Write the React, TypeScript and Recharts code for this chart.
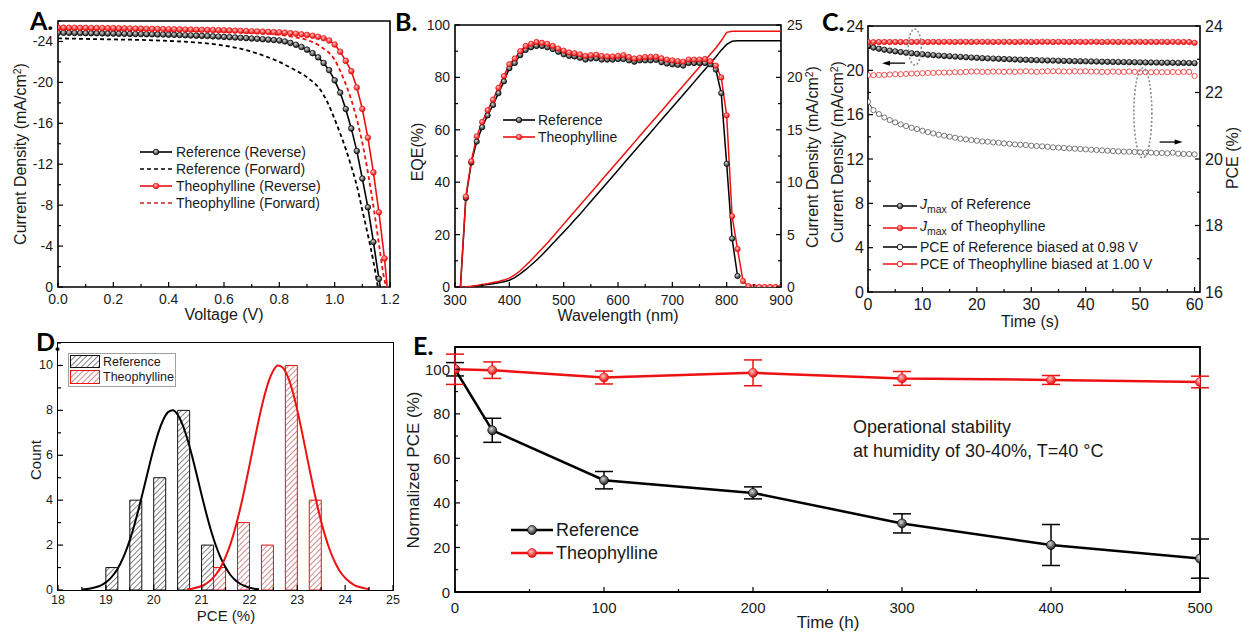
import React from 'react'
import {
  LineChart,
  Line,
  XAxis,
  YAxis,
  ComposedChart,
  Bar,
  ErrorBar,
  ReferenceArea,
  ReferenceDot,
} from 'recharts'

const FONT = '"Liberation Sans", Arial, Helvetica, sans-serif'
const RED = '#ee1111'
const INK = '#1a1a1a'

// ---------- A: J-V curves ----------
const voltsRefRev = [
  0, 0.02, 0.04, 0.06, 0.08, 0.1, 0.12, 0.14, 0.16, 0.18, 0.2, 0.22, 0.24, 0.26, 0.28, 0.3, 0.32, 0.34, 0.36, 0.38,
  0.4, 0.42, 0.44, 0.46, 0.48, 0.5, 0.52, 0.54, 0.56, 0.58, 0.6, 0.62, 0.64, 0.66, 0.68, 0.7, 0.72, 0.74, 0.76, 0.78,
  0.8, 0.82, 0.84, 0.86, 0.88, 0.9, 0.92, 0.94, 0.96, 0.98, 1.0, 1.02, 1.04, 1.06, 1.08, 1.1, 1.12, 1.14, 1.16, 1.165,
]
const jRefRev = [
  -24.85, -24.84, -24.84, -24.83, -24.82, -24.81, -24.8, -24.8, -24.79, -24.78, -24.77, -24.76, -24.75, -24.74, -24.73,
  -24.72, -24.71, -24.7, -24.69, -24.68, -24.66, -24.65, -24.63, -24.61, -24.59, -24.57, -24.55, -24.53, -24.5, -24.48,
  -24.45, -24.42, -24.39, -24.36, -24.33, -24.29, -24.26, -24.22, -24.18, -24.14, -24.1, -24.0, -23.86, -23.68, -23.46,
  -23.2, -22.86, -22.45, -21.9, -21.2, -20.2, -19.0, -17.4, -15.5, -13.3, -10.6, -7.8, -4.4, -0.8, 0,
]
const voltsTheoRev = [
  0, 0.02, 0.04, 0.06, 0.08, 0.1, 0.12, 0.14, 0.16, 0.18, 0.2, 0.22, 0.24, 0.26, 0.28, 0.3, 0.32, 0.34, 0.36, 0.38,
  0.4, 0.42, 0.44, 0.46, 0.48, 0.5, 0.52, 0.54, 0.56, 0.58, 0.6, 0.62, 0.64, 0.66, 0.68, 0.7, 0.72, 0.74, 0.76, 0.78,
  0.8, 0.82, 0.84, 0.86, 0.88, 0.9, 0.92, 0.94, 0.96, 0.98, 1.0, 1.02, 1.04, 1.06, 1.08, 1.1, 1.12, 1.14, 1.16, 1.18,
  1.19,
]
const jTheoRev = [
  -25.35, -25.35, -25.34, -25.34, -25.33, -25.33, -25.32, -25.32, -25.31, -25.3, -25.3, -25.29, -25.28, -25.27, -25.26,
  -25.25, -25.24, -25.23, -25.22, -25.21, -25.2, -25.19, -25.18, -25.17, -25.16, -25.15, -25.14, -25.13, -25.12, -25.11,
  -25.1, -25.08, -25.06, -25.04, -25.02, -25.0, -24.98, -24.96, -24.94, -24.92, -24.9, -24.86, -24.81, -24.76, -24.7,
  -24.64, -24.56, -24.46, -24.32, -24.1, -23.7, -23.0, -22.1, -21.1, -19.5, -17.4, -14.6, -11.2, -7.3, -2.8, 0,
]
const voltsRefFwd = [
  0, 0.1, 0.2, 0.3, 0.4, 0.5, 0.6, 0.65, 0.7, 0.75, 0.8, 0.85, 0.9, 0.95, 0.975, 1.0, 1.02, 1.04, 1.06, 1.08, 1.1, 1.12,
  1.14, 1.156,
]
const jRefFwd = [
  -24.3, -24.25, -24.2, -24.15, -24.05, -23.9, -23.6, -23.35, -23.0, -22.55, -22.0, -21.3, -20.5, -19.2, -18.0, -16.4,
  -15.0, -13.5, -11.8, -9.9, -7.5, -5.1, -2.5, 0,
]
const voltsTheoFwd = [0, 0.2, 0.4, 0.6, 0.7, 0.8, 0.85, 0.9, 0.95, 1.0, 1.03, 1.06, 1.08, 1.1, 1.12, 1.14, 1.16, 1.175, 1.186]
const jTheoFwd = [
  -25.2, -25.15, -25.05, -24.95, -24.85, -24.65, -24.45, -24.15, -23.5, -22.2, -20.5, -18.3, -16.4, -14.1, -11.2, -7.9,
  -4.2, -1.4, 0,
]

// ---------- B: EQE + integrated current ----------
const wavelengths = [
  300, 310, 320, 330, 340, 350, 360, 370, 380, 390, 400, 410, 420, 430, 440, 450, 460, 470, 480, 490, 500, 510, 520, 530,
  540, 550, 560, 570, 580, 590, 600, 610, 620, 630, 640, 650, 660, 670, 680, 690, 700, 710, 720, 730, 740, 750, 760, 770,
  780, 790, 800, 810, 820, 830, 840, 850, 860, 870, 880, 890, 900,
]
const eqeRef = [
  0, 0, 34, 47.5, 55.5, 61, 65.5, 69.5, 74, 78.5, 83.5, 85.5, 88.5, 90.5, 91.5, 92, 92, 91.5, 90.8, 89.8, 88.8, 88.2, 88,
  87.5, 86.8, 87.2, 87.3, 86.8, 86.8, 86.8, 87, 87, 86.5, 86, 86.5, 86.5, 86.5, 86.7, 85.8, 85.3, 85, 84.8, 84.5, 85.5,
  85.5, 85.5, 85.5, 85, 83, 74, 47, 18.5, 4.2, null, null, null, null, null, null, null, null,
]
const eqeTheo = [
  0, 0, 34.5, 48, 57.5, 63, 67.5, 71.5, 76, 80.5, 85, 87.2, 90, 92, 92.8, 93.5, 93.2, 92.8, 92, 91, 90.2, 89.5, 89.2, 88.8,
  88.2, 88.5, 88.7, 88.2, 88, 88, 88.2, 88.5, 87.8, 87.2, 87.5, 87.8, 87.8, 87.9, 87.3, 86.8, 86.5, 86.2, 86, 86.8, 86.8,
  86.8, 87, 86.2, 84.5, 80, 65.5, 27, 14.5, 2.3, 0.3, 0, 0, 0, 0, 0, 0,
]
const jscRef = [
  0, 0, 0.02, 0.05, 0.1, 0.16, 0.23, 0.31, 0.4, 0.5, 0.65, 0.9, 1.25, 1.65, 2.1, 2.55, 3.05, 3.6, 4.15, 4.7, 5.25, 5.8,
  6.4, 6.95, 7.55, 8.15, 8.75, 9.35, 9.95, 10.55, 11.15, 11.75, 12.35, 12.95, 13.55, 14.15, 14.75, 15.35, 15.95, 16.55,
  17.15, 17.75, 18.35, 18.95, 19.55, 20.15, 20.75, 21.35, 21.95, 22.6, 23.15, 23.45, 23.5, 23.5, 23.5, 23.5, 23.5, 23.5,
  23.5, 23.5, 23.5,
]
const jscTheo = [
  0, 0, 0.03, 0.08, 0.15, 0.23, 0.32, 0.42, 0.53, 0.66, 0.85, 1.15, 1.55, 2.05, 2.55, 3.1, 3.65, 4.2, 4.8, 5.4, 6.0, 6.6,
  7.2, 7.8, 8.4, 9.0, 9.6, 10.2, 10.8, 11.4, 12.0, 12.6, 13.2, 13.8, 14.4, 15.0, 15.6, 16.2, 16.8, 17.4, 18.0, 18.6, 19.2,
  19.8, 20.4, 21.0, 21.6, 22.2, 22.8, 23.5, 24.3, 24.4, 24.4, 24.4, 24.4, 24.4, 24.4, 24.4, 24.4, 24.4, 24.4,
]

// ---------- C: steady-state tracking ----------
const seconds = [
  0, 1, 2, 3, 4, 5, 6, 7, 8, 9, 10, 11, 12, 13, 14, 15, 16, 17, 18, 19, 20, 21, 22, 23, 24, 25, 26, 27, 28, 29, 30, 31,
  32, 33, 34, 35, 36, 37, 38, 39, 40, 41, 42, 43, 44, 45, 46, 47, 48, 49, 50, 51, 52, 53, 54, 55, 56, 57, 58, 59, 60,
]
const jmaxRef = [
  22.2, 22.05, 21.95, 21.86, 21.78, 21.71, 21.65, 21.59, 21.54, 21.49, 21.45, 21.41, 21.37, 21.33, 21.3, 21.27, 21.24,
  21.21, 21.18, 21.15, 21.13, 21.1, 21.08, 21.06, 21.04, 21.02, 21.0, 20.98, 20.96, 20.95, 20.93, 20.92, 20.9, 20.89,
  20.88, 20.86, 20.85, 20.84, 20.83, 20.82, 20.81, 20.8, 20.79, 20.78, 20.77, 20.76, 20.75, 20.74, 20.74, 20.73, 20.72,
  20.71, 20.71, 20.7, 20.69, 20.69, 20.68, 20.67, 20.67, 20.66, 20.65,
]
const jmaxTheo = [
  22.55, 22.54, 22.55, 22.56, 22.55, 22.56, 22.56, 22.55, 22.56, 22.57, 22.56, 22.56, 22.57, 22.56, 22.57, 22.57, 22.56,
  22.57, 22.57, 22.56, 22.57, 22.57, 22.57, 22.56, 22.57, 22.57, 22.57, 22.56, 22.57, 22.57, 22.56, 22.57, 22.57, 22.57,
  22.56, 22.57, 22.57, 22.56, 22.57, 22.57, 22.56, 22.57, 22.57, 22.56, 22.57, 22.57, 22.56, 22.57, 22.56, 22.57, 22.57,
  22.56, 22.57, 22.56, 22.57, 22.56, 22.57, 22.56, 22.56, 22.55, 22.48,
]
const pceRef = [
  21.72, 21.47, 21.35, 21.25, 21.17, 21.1, 21.04, 20.99, 20.94, 20.9, 20.85, 20.81, 20.77, 20.73, 20.7, 20.67, 20.64,
  20.61, 20.59, 20.57, 20.55, 20.53, 20.52, 20.5, 20.49, 20.47, 20.46, 20.44, 20.43, 20.42, 20.4, 20.39, 20.38, 20.37,
  20.35, 20.34, 20.33, 20.32, 20.31, 20.3, 20.29, 20.28, 20.27, 20.26, 20.25, 20.24, 20.23, 20.22, 20.22, 20.21, 20.2,
  20.19, 20.19, 20.18, 20.18, 20.17, 20.19, 20.16, 20.15, 20.15, 20.14,
]
const pceTheo = [
  22.52, 22.52, 22.53, 22.53, 22.54, 22.55, 22.55, 22.56, 22.57, 22.57, 22.58, 22.59, 22.59, 22.6, 22.6, 22.6, 22.61,
  22.61, 22.62, 22.63, 22.63, 22.62, 22.62, 22.63, 22.63, 22.62, 22.63, 22.62, 22.63, 22.64, 22.63, 22.62, 22.63, 22.64,
  22.64, 22.64, 22.63, 22.63, 22.64, 22.63, 22.64, 22.63, 22.63, 22.62, 22.62, 22.63, 22.62, 22.62, 22.63, 22.62, 22.61,
  22.61, 22.61, 22.62, 22.61, 22.61, 22.62, 22.61, 22.62, 22.62, 22.5,
]

// ---------- D: PCE histogram ----------
const binStarts = ['18.0', '18.5', '19.0', '19.5', '20.0', '20.5', '21.0', '21.5', '22.0', '22.5', '23.0', '23.5', '24.0', '24.5']
const countRef = [null, null, 1, 4, 5, 8, 2, null, null, null, null, null, null, null]
const countTheo = [null, null, null, null, null, null, 1, 3, 2, 10, 4, null, null, null]
const fitRefX = [
  18.5, 18.6, 18.7, 18.8, 18.9, 19.0, 19.1, 19.2, 19.3, 19.4, 19.5, 19.6, 19.7, 19.8, 19.9, 20.0, 20.1, 20.2, 20.3, 20.4,
  20.5, 20.6, 20.7, 20.8, 20.9, 21.0, 21.1, 21.2, 21.3, 21.4, 21.5, 21.6, 21.7, 21.8, 21.9, 22.0, 22.1, 22.2,
]
const fitRefY = [
  0.02, 0.04, 0.08, 0.13, 0.21, 0.34, 0.53, 0.8, 1.16, 1.63, 2.22, 2.93, 3.73, 4.59, 5.47, 6.3, 7.03, 7.58, 7.92, 8.0,
  7.81, 7.38, 6.75, 5.98, 5.12, 4.24, 3.4, 2.63, 1.97, 1.43, 1.01, 0.68, 0.45, 0.29, 0.18, 0.1, 0.06, 0.03,
]
const fitTheoX = [
  20.7, 20.8, 20.9, 21.0, 21.1, 21.2, 21.3, 21.4, 21.5, 21.6, 21.7, 21.8, 21.9, 22.0, 22.1, 22.2, 22.3, 22.4, 22.5, 22.6,
  22.7, 22.8, 22.9, 23.0, 23.1, 23.2, 23.3, 23.4, 23.5, 23.6, 23.7, 23.8, 23.9, 24.0, 24.1, 24.2, 24.3, 24.4, 24.5,
]
const fitTheoY = [
  0.03, 0.06, 0.11, 0.18, 0.29, 0.45, 0.69, 1.01, 1.46, 2.02, 2.73, 3.56, 4.51, 5.54, 6.6, 7.63, 8.54, 9.28, 9.78, 10.0,
  9.9, 9.51, 8.87, 8.01, 7.02, 5.96, 4.92, 3.93, 3.04, 2.29, 1.67, 1.18, 0.8, 0.54, 0.35, 0.21, 0.13, 0.08, 0.04,
]

// ---------- E: operational stability ----------
const hours = [0, 25, 100, 200, 300, 400, 500]
const normRef = [100, 72.6, 50.2, 44.5, 30.8, 21.1, 15.0]
const normRefErr = [3, 5.4, 3.9, 2.7, 4.3, 9.2, 8.8]
const normTheo = [100, 99.6, 96.3, 98.4, 95.9, 95.2, 94.3]
const normTheoErr = [6.8, 3.7, 2.9, 5.8, 3.1, 2, 2.6]

// note: no data field may be called "ref" (Bar spreads entries into props)
const jvRefRev = voltsRefRev.map((v, i) => ({ v, j: jRefRev[i] }))
const jvTheoRev = voltsTheoRev.map((v, i) => ({ v, j: jTheoRev[i] }))
const jvRefFwd = voltsRefFwd.map((v, i) => ({ v, j: jRefFwd[i] }))
const jvTheoFwd = voltsTheoFwd.map((v, i) => ({ v, j: jTheoFwd[i] }))
const eqeData = wavelengths.map((wl, i) => ({ wl, eqeRef: eqeRef[i], eqeTheo: eqeTheo[i], jscRef: jscRef[i], jscTheo: jscTheo[i] }))
const trackData = seconds.map((t, i) => ({ t, jRef: jmaxRef[i], jTheo: jmaxTheo[i], pRef: pceRef[i], pTheo: pceTheo[i] }))
const histData = binStarts.map((bin, i) => ({ bin, nRef: countRef[i], nTheo: countTheo[i] }))
const fitRef = fitRefX.map((x, i) => ({ x, y: fitRefY[i] }))
const fitTheo = fitTheoX.map((x, i) => ({ x, y: fitTheoY[i] }))
const stabData = hours.map((t, i) => ({ t, pceRef: normRef[i], errRef: normRefErr[i], pceTheo: normTheo[i], errTheo: normTheoErr[i] }))

class Guard extends React.Component<any, { err: string | null }> {
  state = { err: null as string | null }
  static getDerivedStateFromError(e: any) {
    return { err: String(e && e.message) }
  }
  render() {
    if (this.state.err) return <div style={{ color: 'blue', fontSize: 11, width: 380 }}>{this.props.name}: {this.state.err}</div>
    return this.props.children
  }
}

// inward ticks with minor marks, labels only on majors
function makeTick(side: 'bottom' | 'left' | 'right', majors: number[], fs: number, gap: number, fmt: (v: number) => string = String) {
  return (props: any) => {
    const { x, y, payload } = props
    const v = Number(payload.value)
    const major = majors.some((m) => Math.abs(m - v) < 1e-6)
    const len = major ? 5 : 3
    if (side === 'bottom') {
      return (
        <g>
          <line x1={x} y1={y} x2={x} y2={y - len} stroke="#000" strokeWidth={1.2} />
          {major && (
            <text x={x} y={y + gap} textAnchor="middle" dominantBaseline="central" fontSize={fs} fill={INK}>
              {fmt(v)}
            </text>
          )}
        </g>
      )
    }
    const dir = side === 'left' ? 1 : -1
    return (
      <g>
        <line x1={x} y1={y} x2={x + dir * len} y2={y} stroke="#000" strokeWidth={1.2} />
        {major && (
          <text x={x - dir * gap} y={y} textAnchor={side === 'left' ? 'end' : 'start'} dominantBaseline="central" fontSize={fs} fill={INK}>
            {fmt(v)}
          </text>
        )}
      </g>
    )
  }
}

const ball = (fill: string, stroke: string, r: number, keep?: (p: any) => boolean) => (p: any) => {
  if (p.value == null || p.cy == null || (keep && !keep(p))) return <g key={`n-${p.index}`} />
  return <circle key={`d-${p.index}`} cx={p.cx} cy={p.cy} r={r} fill={fill} stroke={stroke} strokeWidth={0.7} />
}

const ellipseShape = (rx: number, ry: number) => (p: any) => (
  <ellipse cx={p.cx} cy={p.cy} rx={rx} ry={ry} fill="none" stroke="#8a8a8a" strokeWidth={1.6} strokeDasharray="2 2" />
)
const arrowShape = (dir: 1 | -1, len: number) => (p: any) => {
  const tip = p.cx + (dir * len) / 2
  const tail = p.cx - (dir * len) / 2
  return (
    <g>
      <line x1={tail} y1={p.cy} x2={tip - dir * 5} y2={p.cy} stroke="#000" strokeWidth={1.3} />
      <polygon points={`${tip},${p.cy} ${tip - dir * 8},${p.cy - 2.5} ${tip - dir * 8},${p.cy + 2.5}`} fill="#000" />
    </g>
  )
}

const noAxis = { tickLine: false, axisLine: false, tickSize: 0, tickMargin: 0, interval: 0 as const, allowDataOverflow: true }

function Title({ x, y, fs, vertical, children }: any) {
  return (
    <div
      style={{
        position: 'absolute',
        left: x,
        top: y,
        transform: `translate(-50%, -50%)${vertical ? ' rotate(-90deg)' : ''}`,
        fontSize: fs,
        lineHeight: 1,
        whiteSpace: 'nowrap',
        color: INK,
      }}
    >
      {children}
    </div>
  )
}

function Letter({ x, y, children }: any) {
  return (
    <div style={{ position: 'absolute', left: x, top: y + 3, fontFamily: 'Lato, "Open Sans", sans-serif', fontWeight: 700, fontSize: 25, lineHeight: '20px', color: '#000' }}>
      {children}
    </div>
  )
}

function LegendRow({ x, y, w, textX, color, dash, marker, fs, lw = 1.6, r = 2.8, children }: any) {
  return (
    <>
      <svg style={{ position: 'absolute', left: x, top: y - 8, overflow: 'visible' }} width={w} height={16}>
        <line x1={0} y1={8} x2={w} y2={8} stroke={color} strokeWidth={lw} strokeDasharray={dash} />
        {marker === 'ball' && <circle cx={w / 2} cy={8} r={r} fill={color === RED ? 'url(#ballR)' : 'url(#ballK)'} stroke={color} strokeWidth={0.7} />}
        {marker === 'open' && <circle cx={w / 2} cy={8} r={r} fill="#fff" stroke={color} strokeWidth={0.9} />}
      </svg>
      <div style={{ position: 'absolute', left: textX, top: y, transform: 'translateY(-50%)', fontSize: fs, lineHeight: 1, whiteSpace: 'nowrap', color: INK }}>
        {children}
      </div>
    </>
  )
}

const cm2 = (
  <>
    mA/cm<sup style={{ fontSize: '0.65em', verticalAlign: '0.55em' }}>2</sup>
  </>
)

function PanelA() {
  return (
    <LineChart width={400} height={320} margin={{ top: 21, right: 10, bottom: 3, left: 0 }}>
      <XAxis
        dataKey="v"
        type="number"
        domain={[0, 1.2]}
        ticks={[0, 0.1, 0.2, 0.3, 0.4, 0.5, 0.6, 0.7, 0.8, 0.9, 1.0, 1.1, 1.2]}
        height={30}
        tick={makeTick('bottom', [0, 0.2, 0.4, 0.6, 0.8, 1.0, 1.2], 14, 12, (v) => v.toFixed(1))}
        {...noAxis}
      />
      <YAxis
        type="number"
        domain={[-26, 0]}
        reversed
        ticks={[-26, -24, -22, -20, -18, -16, -14, -12, -10, -8, -6, -4, -2, 0]}
        width={58}
        tick={makeTick('left', [-24, -20, -16, -12, -8, -4, 0], 14, 5)}
        {...noAxis}
      />
      <ReferenceArea x1={0} x2={1.2} y1={-26} y2={0} fill="none" stroke="#000" strokeWidth={1.6} />
      <Line data={jvRefFwd} dataKey="j" type="monotone" stroke="#000" strokeWidth={1.8} strokeDasharray="4 3" dot={false} isAnimationActive={false} />
      <Line data={jvTheoFwd} dataKey="j" type="monotone" stroke={RED} strokeWidth={1.8} strokeDasharray="4 3" dot={false} isAnimationActive={false} />
      <Line data={jvRefRev} dataKey="j" stroke="#000" strokeWidth={1.6} dot={ball('url(#ballK)', '#000', 2.8, (p) => p.index < jvRefRev.length - 1)} isAnimationActive={false} />
      <Line data={jvTheoRev} dataKey="j" stroke={RED} strokeWidth={1.6} dot={ball('url(#ballR)', RED, 2.8, (p) => p.index < jvTheoRev.length - 1)} isAnimationActive={false} />
    </LineChart>
  )
}

function PanelB() {
  return (
    <ComposedChart width={430} height={320} data={eqeData} margin={{ top: 25, right: 9, bottom: 3, left: 0 }}>
      <XAxis
        dataKey="wl"
        type="number"
        domain={[300, 900]}
        ticks={[300, 350, 400, 450, 500, 550, 600, 650, 700, 750, 800, 850, 900]}
        height={30}
        tick={makeTick('bottom', [300, 400, 500, 600, 700, 800, 900], 14, 13)}
        {...noAxis}
      />
      <YAxis
        yAxisId="eqe"
        type="number"
        domain={[0, 100]}
        ticks={[0, 10, 20, 30, 40, 50, 60, 70, 80, 90, 100]}
        width={55}
        tick={makeTick('left', [0, 20, 40, 60, 80, 100], 14, 5)}
        {...noAxis}
      />
      <YAxis
        yAxisId="jsc"
        orientation="right"
        type="number"
        domain={[0, 25]}
        ticks={[0, 2.5, 5, 7.5, 10, 12.5, 15, 17.5, 20, 22.5, 25]}
        width={40}
        tick={makeTick('right', [0, 5, 10, 15, 20, 25], 14, 6)}
        {...noAxis}
      />
      <ReferenceArea yAxisId="eqe" x1={300} x2={900} y1={0} y2={100} fill="none" stroke="#000" strokeWidth={1.6} />
      <Line yAxisId="jsc" dataKey="jscRef" stroke="#000" strokeWidth={1.5} dot={false} isAnimationActive={false} />
      <Line yAxisId="jsc" dataKey="jscTheo" stroke={RED} strokeWidth={1.5} dot={false} isAnimationActive={false} />
      <Line yAxisId="eqe" dataKey="eqeRef" stroke="#000" strokeWidth={1.5} dot={ball('url(#ballK)', '#000', 2.7, (p) => p.payload.wl >= 320)} isAnimationActive={false} />
      <Line yAxisId="eqe" dataKey="eqeTheo" stroke={RED} strokeWidth={1.5} dot={ball('url(#ballR)', RED, 2.7, (p) => p.payload.wl >= 320)} isAnimationActive={false} />
    </ComposedChart>
  )
}

function PanelC() {
  return (
    <ComposedChart width={422} height={320} data={trackData} margin={{ top: 26, right: 12, bottom: 3, left: 0 }}>
      <XAxis
        dataKey="t"
        type="number"
        domain={[0, 61]}
        ticks={[0, 5, 10, 15, 20, 25, 30, 35, 40, 45, 50, 55, 60]}
        height={25}
        tick={makeTick('bottom', [0, 10, 20, 30, 40, 50, 60], 16, 12)}
        {...noAxis}
      />
      <YAxis
        yAxisId="j"
        type="number"
        domain={[0, 24]}
        ticks={[0, 2, 4, 6, 8, 10, 12, 14, 16, 18, 20, 22, 24]}
        width={48}
        tick={makeTick('left', [0, 4, 8, 12, 16, 20, 24], 16, 4)}
        {...noAxis}
      />
      <YAxis
        yAxisId="pce"
        orientation="right"
        type="number"
        domain={[16, 24]}
        ticks={[16, 17, 18, 19, 20, 21, 22, 23, 24]}
        width={30}
        tick={makeTick('right', [16, 18, 20, 22, 24], 16, 5)}
        {...noAxis}
      />
      <ReferenceArea yAxisId="j" x1={0} x2={61} y1={0} y2={24} fill="none" stroke="#000" strokeWidth={1.6} />
      <Line yAxisId="pce" dataKey="pRef" stroke="#000" strokeWidth={0.8} dot={ball('#fff', '#444', 2.6)} isAnimationActive={false} />
      <Line yAxisId="pce" dataKey="pTheo" stroke={RED} strokeWidth={0.8} dot={ball('#fff', RED, 2.6)} isAnimationActive={false} />
      <Line yAxisId="j" dataKey="jRef" stroke="#000" strokeWidth={1.2} dot={ball('url(#ballK)', '#000', 2.7)} isAnimationActive={false} />
      <Line yAxisId="j" dataKey="jTheo" stroke={RED} strokeWidth={1.2} dot={ball('url(#ballR)', RED, 2.7)} isAnimationActive={false} />
      <ReferenceDot yAxisId="j" x={8.6} y={22.1} r={1} shape={ellipseShape(6.5, 18)} />
      <ReferenceDot yAxisId="j" x={50.5} y={16.15} r={1} shape={ellipseShape(9, 45)} />
      <ReferenceDot yAxisId="j" x={4.7} y={20.65} r={1} shape={arrowShape(-1, 23)} />
      <ReferenceDot yAxisId="j" x={55.7} y={13.53} r={1} shape={arrowShape(1, 23)} />
    </ComposedChart>
  )
}

function PanelD() {
  return (
    <ComposedChart width={410} height={314} data={histData} barGap={0} barCategoryGap={0} margin={{ top: 23, right: 17, bottom: 14, left: 0 }}>
      <XAxis xAxisId="cat" dataKey="bin" type="category" hide height={0} />
      <XAxis
        xAxisId="num"
        dataKey="x"
        type="number"
        domain={[18, 25]}
        ticks={[18, 18.5, 19, 19.5, 20, 20.5, 21, 21.5, 22, 22.5, 23, 23.5, 24, 24.5, 25]}
        height={30}
        tick={makeTick('bottom', [18, 19, 20, 21, 22, 23, 24, 25], 12.5, 10)}
        {...noAxis}
      />
      <YAxis
        type="number"
        domain={[0, 11]}
        ticks={[0, 1, 2, 3, 4, 5, 6, 7, 8, 9, 10, 11]}
        width={58}
        tick={makeTick('left', [0, 2, 4, 6, 8, 10], 12.5, 5)}
        {...noAxis}
      />
      <Bar xAxisId="cat" dataKey="nRef" fill="url(#hatchK)" stroke="#111" strokeWidth={1} isAnimationActive={false} />
      <Bar xAxisId="cat" dataKey="nTheo" fill="url(#hatchR)" stroke={RED} strokeWidth={1} isAnimationActive={false} />
      <Line xAxisId="num" data={fitRef} dataKey="y" type="monotone" stroke="#000" strokeWidth={2} dot={false} isAnimationActive={false} />
      <Line xAxisId="num" data={fitTheo} dataKey="y" type="monotone" stroke={RED} strokeWidth={2} dot={false} isAnimationActive={false} />
    </ComposedChart>
  )
}

function PanelE() {
  return (
    <ComposedChart width={842} height={314} data={stabData} margin={{ top: 27, right: 42, bottom: 12, left: 0 }}>
      <XAxis
        dataKey="t"
        type="number"
        domain={[0, 500]}
        ticks={[0, 50, 100, 150, 200, 250, 300, 350, 400, 450, 500]}
        height={30}
        tick={makeTick('bottom', [0, 100, 200, 300, 400, 500], 15, 15)}
        {...noAxis}
      />
      <YAxis
        type="number"
        domain={[0, 110]}
        ticks={[0, 10, 20, 30, 40, 50, 60, 70, 80, 90, 100, 110]}
        width={55}
        tick={makeTick('left', [0, 20, 40, 60, 80, 100], 15, 5)}
        {...noAxis}
      />
      <ReferenceArea x1={0} x2={500} y1={0} y2={110} fill="none" stroke="#000" strokeWidth={1.8} />
      <Line dataKey="pceRef" stroke="#000" strokeWidth={2.5} dot={ball('url(#ballK)', '#000', 4.5)} isAnimationActive={false}>
        <ErrorBar dataKey="errRef" direction="y" width={9} stroke="#000" strokeWidth={1.5} />
      </Line>
      <Line dataKey="pceTheo" stroke={RED} strokeWidth={2.5} dot={ball('url(#ballR)', RED, 4.5)} isAnimationActive={false}>
        <ErrorBar dataKey="errTheo" direction="y" width={9} stroke={RED} strokeWidth={1.5} />
      </Line>
    </ComposedChart>
  )
}

export default function App() {
  return (
    <div style={{ position: 'fixed', left: 0, top: 0, width: 1242, height: 634, background: '#fff', overflow: 'hidden', fontFamily: FONT }}>
      <svg width={0} height={0} style={{ position: 'absolute' }}>
        <defs>
          <radialGradient id="ballK" cx="0.4" cy="0.35" r="0.65">
            <stop offset="0" stopColor="#d8d8d8" />
            <stop offset="1" stopColor="#1a1a1a" />
          </radialGradient>
          <radialGradient id="ballR" cx="0.4" cy="0.35" r="0.65">
            <stop offset="0" stopColor="#ffc4c4" />
            <stop offset="1" stopColor="#e60000" />
          </radialGradient>
          <pattern id="hatchK" width="4" height="4" patternUnits="userSpaceOnUse" patternTransform="rotate(45)">
            <rect width="4" height="4" fill="#fff" />
            <line x1="0" y1="0" x2="0" y2="4" stroke="#333" strokeWidth="1.2" />
          </pattern>
          <pattern id="hatchR" width="4" height="4" patternUnits="userSpaceOnUse" patternTransform="rotate(45)">
            <rect width="4" height="4" fill="#fff" />
            <line x1="0" y1="0" x2="0" y2="4" stroke="#b03a3a" strokeWidth="1.2" />
          </pattern>
        </defs>
      </svg>

      <div style={{ position: 'absolute', left: 0, top: 0 }}>
        <Guard name="A"><PanelA /></Guard>
      </div>
      <div style={{ position: 'absolute', left: 400, top: 0 }}>
        <Guard name="B"><PanelB /></Guard>
      </div>
      <div style={{ position: 'absolute', left: 820, top: 0 }}>
        <Guard name="C"><PanelC /></Guard>
      </div>
      <div style={{ position: 'absolute', left: 0, top: 320 }}>
        <Guard name="D"><PanelD /></Guard>
      </div>
      {/* frame of D */}
      <div style={{ position: 'absolute', left: 57, top: 342, width: 337, height: 249, border: '1.6px solid #000', boxSizing: 'border-box', pointerEvents: 'none' }} />
      <div style={{ position: 'absolute', left: 400, top: 320 }}>
        <Guard name="E"><PanelE /></Guard>
      </div>

      {/* panel letters */}
      <Letter x={30} y={7}>A.</Letter>
      <Letter x={395} y={8}>B.</Letter>
      <Letter x={822} y={8}>C.</Letter>
      <Letter x={36} y={328}>D.</Letter>
      <Letter x={413} y={332}>E.</Letter>

      {/* axis titles */}
      <Title x={21} y={154} fs={16} vertical>Current Density ({cm2})</Title>
      <Title x={224} y={315} fs={16}>Voltage (V)</Title>
      <Title x={418} y={152} fs={16} vertical>EQE(%)</Title>
      <Title x={618} y={316} fs={16}>Wavelength (nm)</Title>
      <Title x={813} y={157} fs={16} vertical>Current Density ({cm2})</Title>
      <Title x={838} y={152} fs={16} vertical>Current Density ({cm2})</Title>
      <Title x={1233} y={158} fs={16} vertical>PCE (%)</Title>
      <Title x={1030} y={322} fs={16}>Time (s)</Title>
      <Title x={35} y={460} fs={15} vertical>Count</Title>
      <Title x={226} y={615} fs={15}>PCE (%)</Title>
      <Title x={413} y={470} fs={17} vertical>Normalized PCE (%)</Title>
      <Title x={828} y={622} fs={17}>Time (h)</Title>

      {/* legends */}
      <LegendRow x={140} y={152} w={32} textX={176} color="#000" marker="ball" fs={14}>Reference (Reverse)</LegendRow>
      <LegendRow x={140} y={169} w={32} textX={176} color="#000" dash="4 3" fs={14}>Reference (Forward)</LegendRow>
      <LegendRow x={140} y={186} w={32} textX={176} color={RED} marker="ball" fs={14}>Theophylline (Reverse)</LegendRow>
      <LegendRow x={140} y={203} w={32} textX={176} color="#c62020" dash="4 3" fs={14}>Theophylline (Forward)</LegendRow>

      <LegendRow x={503} y={120} w={32} textX={538} color="#000" marker="ball" fs={14}>Reference</LegendRow>
      <LegendRow x={503} y={137} w={32} textX={538} color={RED} marker="ball" fs={14}>Theophylline</LegendRow>

      <LegendRow x={883} y={206} w={34} textX={920} color="#000" marker="ball" fs={14}>
        <i>J</i>
        <sub style={{ fontSize: '0.75em' }}>max</sub> of Reference
      </LegendRow>
      <LegendRow x={883} y={228} w={34} textX={920} color={RED} marker="ball" fs={14}>
        <i>J</i>
        <sub style={{ fontSize: '0.75em' }}>max</sub> of Theophylline
      </LegendRow>
      <LegendRow x={883} y={247} w={34} textX={920} color="#000" marker="open" fs={14}>PCE of Reference biased at 0.98 V</LegendRow>
      <LegendRow x={883} y={264} w={34} textX={920} color={RED} marker="open" fs={14}>PCE of Theophylline biased at 1.00 V</LegendRow>

      <div style={{ position: 'absolute', left: 68, top: 353, width: 108, height: 34, border: '1px solid #a0a0a0', background: '#fff', boxSizing: 'border-box' }} />
      <svg style={{ position: 'absolute', left: 70, top: 355 }} width={30} height={30}>
        <rect x={0.5} y={0.5} width={29} height={12} fill="url(#hatchK)" stroke="#111" />
        <rect x={0.5} y={15.5} width={29} height={13} fill="url(#hatchR)" stroke={RED} />
      </svg>
      <div style={{ position: 'absolute', left: 103, top: 362, transform: 'translateY(-50%)', fontSize: 12.5, lineHeight: 1, color: INK }}>Reference</div>
      <div style={{ position: 'absolute', left: 103, top: 377, transform: 'translateY(-50%)', fontSize: 12.5, lineHeight: 1, color: INK }}>Theophylline</div>

      <LegendRow x={511} y={530} w={42} textX={556} color="#000" marker="ball" fs={18} lw={2.5} r={4.5}>Reference</LegendRow>
      <LegendRow x={511} y={553} w={42} textX={556} color={RED} marker="ball" fs={18} lw={2.5} r={4.5}>Theophylline</LegendRow>

      <div style={{ position: 'absolute', left: 853, top: 427, transform: 'translateY(-50%)', fontSize: 18, lineHeight: 1, whiteSpace: 'nowrap', color: INK }}>
        Operational stability
      </div>
      <div style={{ position: 'absolute', left: 853, top: 451, transform: 'translateY(-50%)', fontSize: 18, lineHeight: 1, whiteSpace: 'nowrap', color: INK }}>
        at humidity of 30-40%, T=40 °C
      </div>
    </div>
  )
}
